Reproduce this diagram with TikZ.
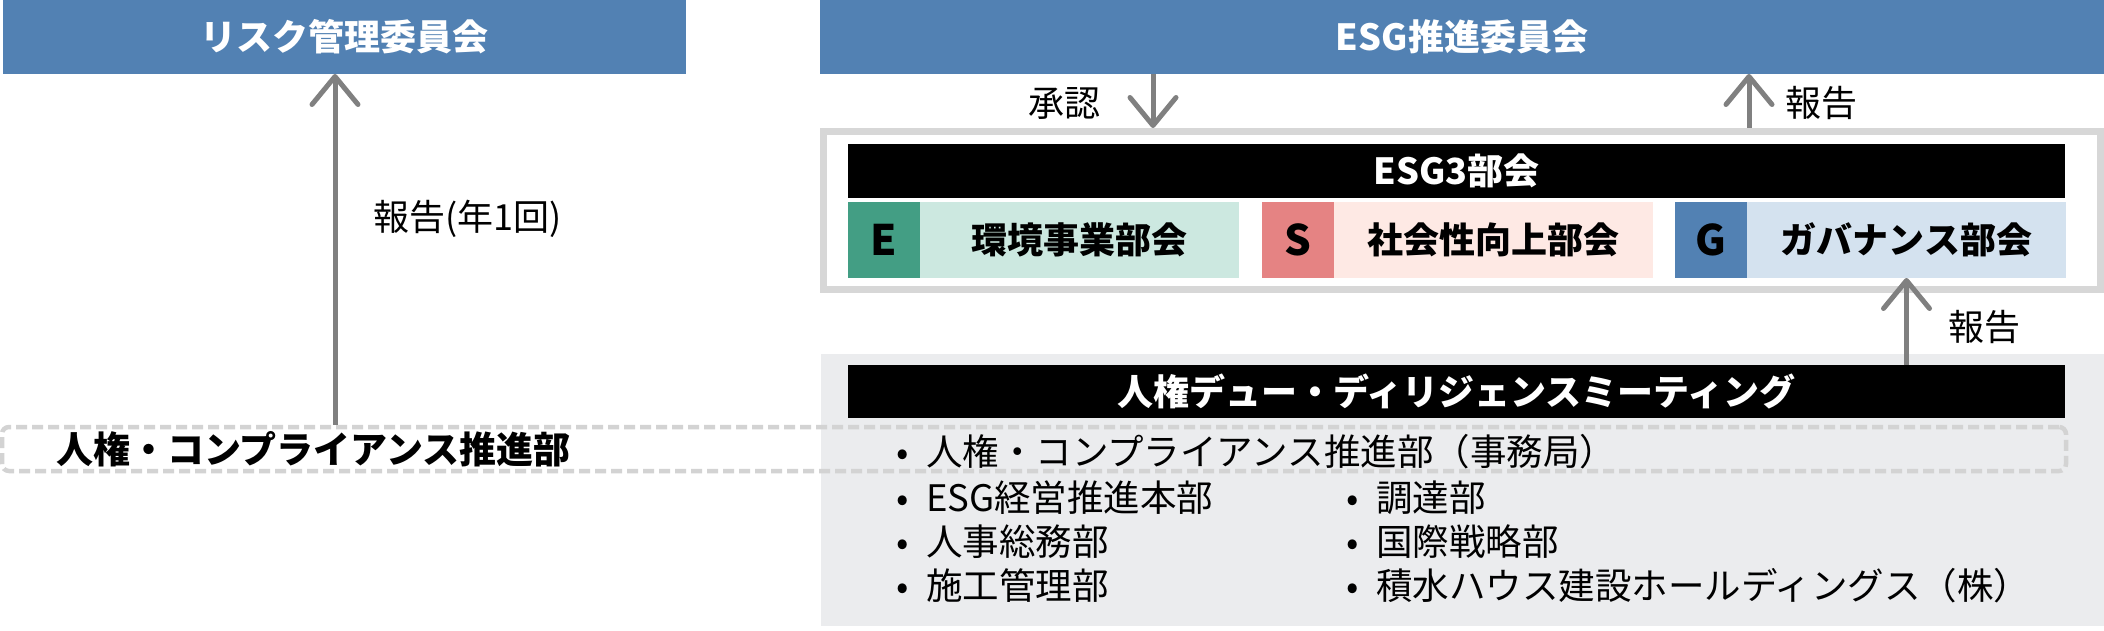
\documentclass[tikz,border=0pt]{standalone}
\usepackage{fontspec}
\setmainfont{Noto Sans CJK JP}
\usepackage{tikz}
\usetikzlibrary{arrows.meta}

\definecolor{boardblue}{HTML}{5281B3}
\definecolor{framegray}{HTML}{D7D7D7}
\definecolor{egreen}{HTML}{439E84}
\definecolor{elight}{HTML}{CCE8E0}
\definecolor{sred}{HTML}{E58383}
\definecolor{slight}{HTML}{FEE9E4}
\definecolor{glight}{HTML}{D4E2EF}
\definecolor{bggray}{HTML}{EBECEE}
\definecolor{dashgray}{HTML}{D3D3D3}
\definecolor{arrowgray}{HTML}{808080}

\newcommand\boldtxt{\bfseries\fontsize{36}{36}\selectfont}
\newcommand\plaintxt{\fontsize{36}{36}\selectfont}

\begin{document}
\begin{tikzpicture}[x=1pt, y=-1pt,
	plate/.style={inner sep=0pt, outer sep=0pt, text height=31.7pt, text depth=4.3pt},
	head/.style={plate, fill=boardblue, text=white, font=\boldtxt, minimum height=74pt},
	bar/.style={plate, fill=black, text=white, font=\boldtxt, minimum width=1217pt},
	tag/.style={plate, fill=#1, font=\bfseries\fontsize{42}{42}\selectfont, text height=30pt, text depth=0pt,
		minimum width=72pt, minimum height=76pt},
	sub/.style={plate, fill=#1, font=\boldtxt, minimum width=319pt, minimum height=76pt},
	lbl/.style={plate, font=\plaintxt, anchor=west},
	item/.style={plate, font=\fontsize{36.5}{37}\selectfont, anchor=west},
	arr/.style={draw=arrowgray, line width=5pt, -{Straight Barb[length=28pt, width=46pt, round]}}]
	\useasboundingbox (0,0) rectangle (2104,631);

	\node[head, minimum width=683pt] (risk) at (344.5,37) {リスク管理委員会};
	\node[head, minimum width=1284pt] (esgc) at (1462,37) {ESG推進委員会};

	\node[draw=framegray, line width=7pt, minimum width=1277pt, minimum height=158pt, inner sep=0pt] (frame) at (1462,210.5) {};
	\node[bar, minimum height=54pt] (esg3) at (1456.5,171) {ESG3部会};
	\node[tag=egreen] (e) at (884,240) {E};
	\node[sub=elight] (env) at (1079.5,240) {環境事業部会};
	\node[tag=sred] (s) at (1297.5,240) {S};
	\node[sub=slight] (soc) at (1493,240) {社会性向上部会};
	\node[tag=boardblue] (g) at (1711,240) {G};
	\node[sub=glight] (gov) at (1906.5,240) {ガバナンス部会};

	\node[plate, fill=bggray, minimum width=1283pt, minimum height=272pt] (mtg) at (1462.5,490) {};
	\node[bar, minimum height=53pt] (hrdd) at (1456.5,391.5) {人権デュー・ディリジェンスミーティング};
	\node[draw=dashgray, line width=4.5pt, dash pattern=on 11pt off 5pt, rounded corners=7pt,
		minimum width=2064pt, minimum height=44pt, inner sep=0pt] (comp) at (1034,449) {};
	\node[plate, font=\bfseries\fontsize{37}{37}\selectfont, text height=32.6pt, text depth=4.4pt, anchor=west]
		(compname) at (56,449) {人権・コンプライアンス推進部};

	\node[item] (i1) at (880,452) {\makebox[46pt]{•}人権・コンプライアンス推進部（事務局）};
	\node[item] (i2) at (880,498) {\makebox[46pt]{•}ESG経営推進本部};
	\node[item] (i3) at (880,542) {\makebox[46pt]{•}人事総務部};
	\node[item] (i4) at (880,586) {\makebox[46pt]{•}施工管理部};
	\node[item] (j1) at (1330,498) {\makebox[46pt]{•}調達部};
	\node[item] (j2) at (1330,542) {\makebox[46pt]{•}国際戦略部};
	\node[item] (j3) at (1330,586) {\makebox[46pt]{•}積水ハウス建設ホールディングス（株）};

	\node[lbl] (report1) at (373,217) {報告(年1回)};
	\node[lbl] (approve) at (1028,103) {承認};
	\node[lbl] (report2) at (1785,103) {報告};
	\node[lbl] (report3) at (1948,327) {報告};

	\coordinate (lx) at (335,0);
	\coordinate (ax) at (1153,0);
	\coordinate (bx) at (1749,0);
	\draw[arr] (comp.north -| lx) -- (risk.south -| lx);
	\draw[arr] (esgc.south -| ax) -- (frame.north -| ax);
	\draw[arr] (frame.north -| bx) -- (esgc.south -| bx);
	\draw[arr] (hrdd.north -| gov.south) -- (gov.south);
\end{tikzpicture}
\end{document}
